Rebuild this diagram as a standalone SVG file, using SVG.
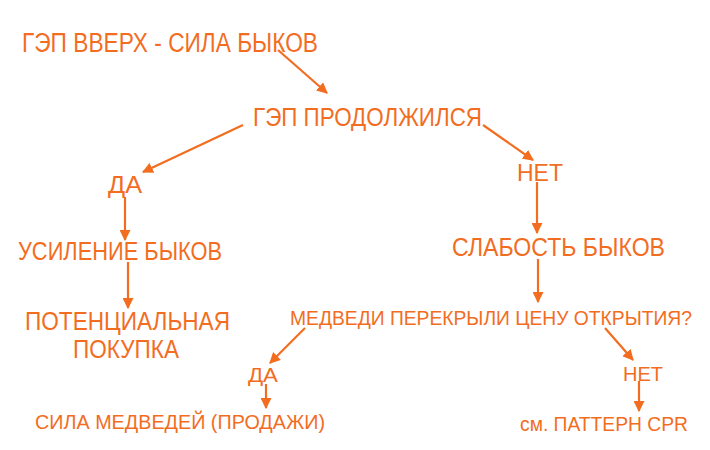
<svg xmlns="http://www.w3.org/2000/svg" width="710" height="450" viewBox="0 0 710 450">
<style>
text{font-family:"Liberation Sans","DejaVu Sans",sans-serif;fill:#F26D1F;}
.c line{stroke:#F26D1F;stroke-width:2.2;marker-end:url(#ah);}
</style>
<defs>
<marker id="ah" viewBox="0 0 10 10" refX="9" refY="5" markerWidth="5" markerHeight="5" orient="auto" markerUnits="strokeWidth">
<path d="M0,0 L10,5 L0,10 Z" fill="#F26D1F"/>
</marker>
</defs>
<rect width="710" height="450" fill="#fff"/>
<g class="c" id="connectors">
<line x1="278" y1="50" x2="327" y2="93"/>
<line x1="243" y1="125" x2="143" y2="172"/>
<line x1="483" y1="125" x2="533" y2="160"/>
<line x1="125" y1="197" x2="125" y2="240"/>
<line x1="128" y1="262" x2="128" y2="308"/>
<line x1="537" y1="182" x2="537" y2="233"/>
<line x1="538" y1="259" x2="538" y2="302"/>
<line x1="305" y1="328" x2="270" y2="363"/>
<line x1="605" y1="328" x2="633" y2="360"/>
<line x1="266" y1="384" x2="266" y2="408"/>
<line x1="639" y1="381" x2="639" y2="411"/>
</g>
<g id="n1"><text x="22" y="52" font-size="27" textLength="296" lengthAdjust="spacingAndGlyphs">ГЭП ВВЕРХ - СИЛА БЫКОВ</text></g>
<g id="n2"><text x="253" y="126" font-size="25" textLength="229" lengthAdjust="spacingAndGlyphs">ГЭП ПРОДОЛЖИЛСЯ</text></g>
<g id="n3"><text x="108" y="193" font-size="24" textLength="34" lengthAdjust="spacingAndGlyphs">ДА</text></g>
<g id="n4"><text x="517" y="181" font-size="24" textLength="46" lengthAdjust="spacingAndGlyphs">НЕТ</text></g>
<g id="n5"><text x="18" y="260" font-size="25" textLength="204" lengthAdjust="spacingAndGlyphs">УСИЛЕНИЕ БЫКОВ</text></g>
<g id="n6"><text x="452" y="256" font-size="25" textLength="213" lengthAdjust="spacingAndGlyphs">СЛАБОСТЬ БЫКОВ</text></g>
<g id="n7"><text x="25" y="330" font-size="25" textLength="205" lengthAdjust="spacingAndGlyphs">ПОТЕНЦИАЛЬНАЯ</text><text x="73" y="358" font-size="25" textLength="106" lengthAdjust="spacingAndGlyphs">ПОКУПКА</text></g>
<g id="n8"><text x="290" y="325" font-size="20" textLength="402" lengthAdjust="spacingAndGlyphs">МЕДВЕДИ ПЕРЕКРЫЛИ ЦЕНУ ОТКРЫТИЯ?</text></g>
<g id="n9"><text x="248" y="382" font-size="20" textLength="30" lengthAdjust="spacingAndGlyphs">ДА</text></g>
<g id="n10"><text x="623" y="381" font-size="20" textLength="40" lengthAdjust="spacingAndGlyphs">НЕТ</text></g>
<g id="n11"><text x="35" y="429" font-size="20" textLength="290" lengthAdjust="spacingAndGlyphs">СИЛА МЕДВЕДЕЙ (ПРОДАЖИ)</text></g>
<g id="n12"><text x="520" y="431" font-size="20" textLength="168" lengthAdjust="spacingAndGlyphs">см. ПАТТЕРН CPR</text></g>
</svg>
